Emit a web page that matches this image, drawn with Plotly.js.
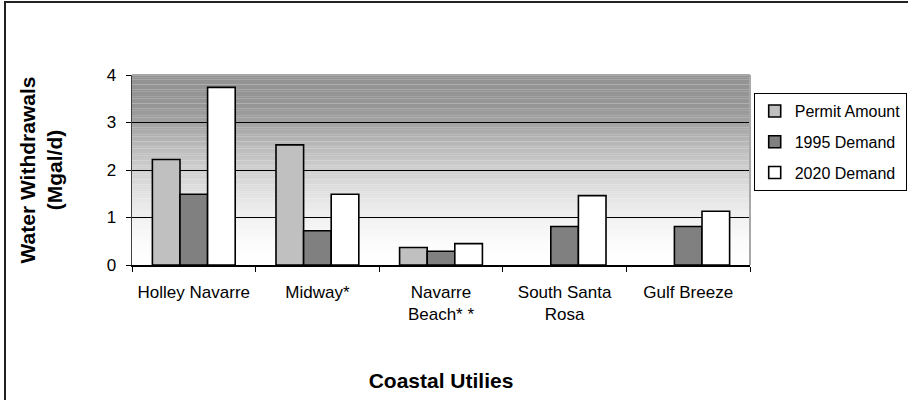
<!DOCTYPE html>
<html>
<head>
<meta charset="utf-8">
<script src="https://cdn.plot.ly/plotly-3.0.1.min.js"></script>
<style>
  html, body { margin: 0; padding: 0; background: #fff; overflow: hidden; }
  #chart { width: 908px; height: 400px; position: absolute; left: 0; top: 0; }
  #frame { position: absolute; left: 4px; top: 1px; width: 1000px; height: 1000px;
           border-left: 2px solid #222; border-top: 2px solid #222; pointer-events: none; }
</style>
</head>
<body>
<div id="chart"></div>
<div id="frame"></div>
<script>
// ---- data ----
const categories = ["Holley Navarre", "Midway*", "Navarre<br>Beach* *", "South Santa<br>Rosa", "Gulf Breeze"];
const permitAmount = [2.22, 2.53, 0.37, null, null];
const demand1995   = [1.49, 0.72, 0.29, 0.81, 0.81];
const demand2020   = [3.74, 1.49, 0.45, 1.46, 1.13];
const seriesNames  = ["Permit Amount", "1995 Demand", "2020 Demand"];
const yTicks = [0, 1, 2, 3, 4];

const FONT = "Liberation Sans, Arial, sans-serif";
const colors = ["#c0c0c0", "#808080", "#ffffff"];
const series = [permitAmount, demand1995, demand2020];

const traces = series.map((vals, i) => ({
  type: "bar",
  name: seriesNames[i],
  x: categories,
  y: vals,
  legendgroup: "g" + i,
  marker: { color: colors[i], line: { color: "#000", width: 1.6 } },
  hoverinfo: "none"
}));

// background gradient (style only): grey levels by height in axis units
const stops = [[0, 255], [0.5, 251], [1, 240], [1.5, 226], [2, 207], [2.5, 186], [3, 163], [3.3, 151], [4, 146]];
function grey(v) {
  for (let k = 0; k < stops.length - 1; k++) {
    const a = stops[k], b = stops[k + 1];
    if (v >= a[0] && v <= b[0]) {
      const t = (v - a[0]) / (b[0] - a[0]);
      return Math.round(a[1] + t * (b[1] - a[1]));
    }
  }
  return 146;
}
const bgShapes = [];
const NB = 80, yMaxTick = yTicks[yTicks.length - 1];
for (let k = 0; k < NB; k++) {
  const y0 = yMaxTick * k / NB, y1 = yMaxTick * (k + 1) / NB;
  const g = grey((y0 + y1) / 2);
  bgShapes.push({
    type: "rect", layer: "below", xref: "x domain", yref: "y",
    x0: 0, x1: 1, y0: y0, y1: y1 + 0.002,
    fillcolor: `rgb(${g},${g},${g})`, line: { width: 0 }
  });
}
// light grey plot-area top & right edges
bgShapes.push({ type: "line", layer: "above", xref: "x domain", yref: "y domain", x0: 0, x1: 1, y0: 1, y1: 1, line: { color: "#a8a8a8", width: 2 } });
bgShapes.push({ type: "line", layer: "above", xref: "x domain", yref: "y domain", x0: 1, x1: 1, y0: 0, y1: 1, line: { color: "#a8a8a8", width: 2 } });

const layout = {
  width: 908, height: 400,
  margin: { l: 132, r: 158, t: 75, b: 135, autoexpand: false },
  paper_bgcolor: "#fff",
  plot_bgcolor: "#fff",
  barmode: "group",
  bargap: 0.33,
  bargroupgap: 0,
  font: { family: FONT, size: 16, color: "#000" },
  showlegend: true,
  legend: {
    x: 1.006, xanchor: "left", y: 0.905, yanchor: "top",
    bgcolor: "#fff", bordercolor: "#000", borderwidth: 1,
    font: { family: FONT, size: 16, color: "#000" },
    tracegroupgap: 7,
    traceorder: "grouped"
  },
  xaxis: {
    type: "category",
    showgrid: false,
    showline: true, linecolor: "#000", linewidth: 1.5,
    ticks: "outside", tickson: "boundaries", ticklen: 5, tickcolor: "#000", tickwidth: 1,
    ticklabelstandoff: 11,
    tickfont: { family: FONT, size: 17, color: "#000" },
    title: { text: "Coastal Utilies", font: { family: FONT, size: 21, color: "#000", weight: "bold" }, standoff: 50 },
    fixedrange: true
  },
  yaxis: {
    range: [0, 4],
    tickvals: yTicks,
    showgrid: true, gridcolor: "#000", gridwidth: 1,
    zeroline: false,
    showline: true, linecolor: "#404040", linewidth: 1.5,
    ticks: "outside", ticklen: 5, tickcolor: "#000",
    ticklabelstandoff: 6,
    tickfont: { family: FONT, size: 17, color: "#000" },
    title: { text: "Water Withdrawals<br>(Mgal/d)", font: { family: FONT, size: 21, color: "#000", weight: "bold" }, standoff: 38 },
    fixedrange: true
  },
  shapes: bgShapes
};

Plotly.newPlot("chart", traces, layout, { staticPlot: true, displayModeBar: false });
</script>
</body>
</html>
